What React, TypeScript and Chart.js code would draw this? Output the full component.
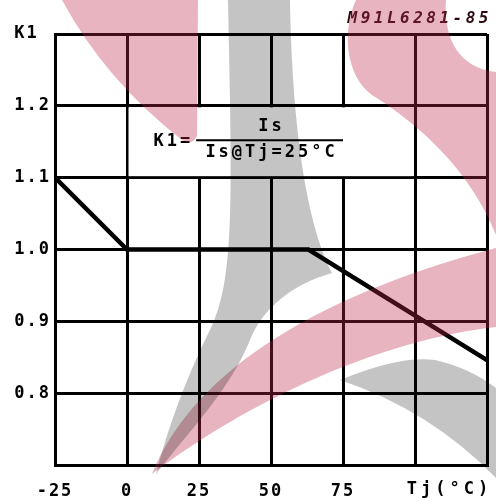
import React, { useEffect, useRef } from "react";
import { Chart, registerables } from "chart.js";

Chart.register(...registerables);

// Data
const tjValues = [-25, 0, 63, 125];
const k1Values = [1.1, 1.0, 1.0, 0.846];
const xTickLabels: Record<string, string> = { "-25": "-25", "0": "0", "25": "25", "50": "50", "75": "75", "100": "", "125": "" };
const yTickLabels: Record<string, string> = { "0.7": "", "0.8": "0.8", "0.9": "0.9", "1.0": "1.0", "1.1": "1.1", "1.2": "1.2", "1.3": "K1 " };
const xAxisName = "Tj(°C)";
const codeLabel = "M91L6281-85";
const formulaLeft = "K1=";
const formulaNum = "Is";
const formulaDen = "Is@Tj=25°C";

const MONO = "'DejaVu Sans Mono', monospace";

const decorPlugin = {
  id: "decor",
  beforeDraw(chart: any) {
    const ctx = chart.ctx;
    ctx.save();
    ctx.fillStyle = "#ffffff";
    ctx.fillRect(0, 0, chart.width, chart.height);
    ctx.restore();
    ctx.letterSpacing = "2px";
  },
  beforeDatasetsDraw(chart: any) {
    const ctx = chart.ctx;
    const xs = chart.scales.x;
    const ys = chart.scales.y;
    const lw = 3;
    // white box for the formula (grid is interrupted there)
    const x0 = xs.getPixelForValue(0) + lw / 2;
    const x1 = xs.getPixelForValue(100) - lw / 2;
    const y0 = ys.getPixelForValue(1.2) + lw / 2;
    const y1 = ys.getPixelForValue(1.1) - lw / 2;
    ctx.save();
    ctx.fillStyle = "#ffffff";
    ctx.fillRect(x0, y0, x1 - x0, y1 - y0);
    ctx.restore();
  },
  afterDatasetsDraw(chart: any) {
    const ctx = chart.ctx;
    const xs = chart.scales.x;
    const ys = chart.scales.y;
    ctx.save();
    ctx.fillStyle = "#000";
    ctx.strokeStyle = "#000";
    ctx.letterSpacing = "3px";
    ctx.font = `bold 17px ${MONO}`;
    ctx.textBaseline = "middle";
    // formula
    const lx0 = xs.getPixelForValue(24);
    const lx1 = xs.getPixelForValue(75);
    const ly = ys.getPixelForValue(1.152);
    ctx.lineWidth = 2;
    ctx.beginPath();
    ctx.moveTo(lx0, ly);
    ctx.lineTo(lx1, ly);
    ctx.stroke();
    ctx.textAlign = "center";
    const cx = (lx0 + lx1) / 2 + 2;
    ctx.fillText(formulaNum, cx, ys.getPixelForValue(1.171));
    ctx.fillText(formulaDen, cx, ys.getPixelForValue(1.135));
    ctx.textAlign = "right";
    ctx.fillText(formulaLeft, xs.getPixelForValue(23), ys.getPixelForValue(1.15));
    // axis name
    ctx.font = `bold 17px ${MONO}`;
    ctx.letterSpacing = "4px";
    ctx.textAlign = "center";
    ctx.fillText(xAxisName, xs.getPixelForValue(112), chart.chartArea.bottom + 25);
    // code label
    ctx.font = `italic bold 16px ${MONO}`;
    ctx.letterSpacing = "3.5px";
    ctx.textAlign = "right";
    ctx.fillStyle = "#2a0a10";
    ctx.fillText(codeLabel, chart.width - 4, 19);
    ctx.restore();
  },
  afterDraw(chart: any) {
    const ctx = chart.ctx;
    ctx.save();
    // pink watermark pieces
    ctx.globalAlpha = 0.35;
    ctx.fillStyle = "rgb(189,41,72)";
    // top-left swoosh
    ctx.beginPath();
    ctx.moveTo(62, 0);
    ctx.lineTo(198, 0);
    ctx.lineTo(197, 136);
    ctx.quadraticCurveTo(192, 146, 182, 140);
    ctx.quadraticCurveTo(105, 80, 62, 0);
    ctx.closePath();
    ctx.fill();
    // lower band
    ctx.beginPath();
    ctx.moveTo(152, 474);
    ctx.bezierCurveTo(190, 380, 300, 300, 496, 248);
    ctx.lineTo(496, 327);
    ctx.bezierCurveTo(380, 340, 250, 400, 152, 474);
    ctx.closePath();
    ctx.fill();
    // top-right crescent
    ctx.beginPath();
    ctx.moveTo(356, 0);
    ctx.lineTo(446, 0);
    ctx.bezierCurveTo(443, 40, 460, 68, 496, 72);
    ctx.lineTo(496, 235);
    ctx.bezierCurveTo(470, 170, 420, 125, 372, 95);
    ctx.bezierCurveTo(345, 75, 342, 30, 356, 0);
    ctx.closePath();
    ctx.fill();
    // gray watermark pieces
    ctx.globalAlpha = 0.23;
    ctx.fillStyle = "#000";
    ctx.beginPath();
    ctx.moveTo(228, 0);
    ctx.lineTo(290, 0);
    ctx.bezierCurveTo(292, 120, 305, 220, 332, 273);
    ctx.bezierCurveTo(290, 285, 262, 310, 250, 340);
    ctx.bezierCurveTo(230, 390, 190, 430, 156, 474);
    ctx.bezierCurveTo(170, 420, 190, 370, 210, 330);
    ctx.bezierCurveTo(235, 280, 232, 200, 228, 0);
    ctx.closePath();
    ctx.fill();
    ctx.beginPath();
    ctx.moveTo(340, 380);
    ctx.quadraticCurveTo(400, 355, 435, 360);
    ctx.quadraticCurveTo(470, 368, 496, 388);
    ctx.lineTo(496, 478);
    ctx.quadraticCurveTo(430, 410, 340, 380);
    ctx.closePath();
    ctx.fill();
    ctx.restore();
  },
};

export default function App() {
  const canvasRef = useRef<HTMLCanvasElement | null>(null);

  useEffect(() => {
    if (!canvasRef.current) return;
    const chart = new Chart(canvasRef.current, {
      type: "line",
      data: {
        datasets: [
          {
            data: tjValues.map((x, i) => ({ x, y: k1Values[i] })),
            borderColor: "#000",
            borderWidth: 4.5,
            pointRadius: 0,
            tension: 0,
            fill: false,
          },
        ],
      },
      options: {
        animation: false,
        responsive: true,
        maintainAspectRatio: false,
        layout: { padding: { top: 34, right: 9, left: 0, bottom: 0 } },
        plugins: { legend: { display: false }, tooltip: { enabled: false }, title: { display: false } },
        scales: {
          x: {
            type: "linear",
            min: -25,
            max: 125,
            afterFit: (s: any) => {
              s.height = 36;
              s.paddingRight = 0;
              s.paddingLeft = 0;
            },
            grid: { color: "#000", lineWidth: 3, drawTicks: false },
            border: { color: "#000", width: 3 },
            ticks: {
              stepSize: 25,
              autoSkip: false,
              maxRotation: 0,
              padding: 16,
              color: "#000",
              font: { family: MONO, weight: "bold", size: 17 },
              callback: (v: any) => xTickLabels[String(Math.round(Number(v)))] ?? "",
            },
          },
          y: {
            min: 0.7,
            max: 1.3,
            afterFit: (s: any) => { s.width = 55; },
            grid: { color: "#000", lineWidth: 3, drawTicks: false },
            border: { color: "#000", width: 3 },
            ticks: {
              stepSize: 0.1,
              padding: 4,
              color: "#000",
              font: { family: MONO, weight: "bold", size: 17 },
              callback: (v: any) => yTickLabels[Number(v).toFixed(1)] ?? "",
            },
          },
        },
      },
      plugins: [decorPlugin],
    });
    return () => chart.destroy();
  }, []);

  return (
    <div style={{ position: "fixed", left: 0, top: 0, width: 496, height: 501, background: "#fff" }}>
      <canvas ref={canvasRef} />
    </div>
  );
}
